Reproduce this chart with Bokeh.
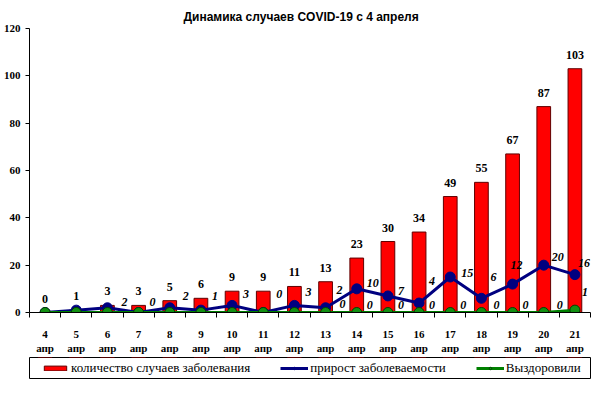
import numpy as np
from bokeh.plotting import figure
from bokeh.layouts import column
from bokeh.models import (ColumnDataSource, FixedTicker, Legend, LegendItem, Range1d, Title)
from bokeh.core.properties import value
from bokeh.embed import file_html
from bokeh.resources import INLINE

days = ["4", "5", "6", "7", "8", "9", "10", "11", "12", "13", "14", "15", "16", "17", "18", "19", "20", "21"]
month = "апр"
cases = [0, 1, 3, 3, 5, 6, 9, 9, 11, 13, 23, 30, 34, 49, 55, 67, 87, 103]
increase = [0, 1, 2, 0, 2, 1, 3, 0, 3, 2, 10, 7, 4, 15, 6, 12, 20, 16]
recovered = [0, 0, 0, 0, 0, 0, 0, 0, 0, 0, 0, 0, 0, 0, 0, 0, 0, 1]
y_ticks = [0, 20, 40, 60, 80, 100, 120]

n = len(days)
idx = list(range(n))
src = ColumnDataSource(dict(
    x=idx, cases=cases, increase=increase, recovered=recovered,
    cases_lbl=[str(v) for v in cases],
))

# label placement (pixel offsets, styling only) for labelled points: days 6..21 / 13..21
inc_first = 2
inc_dx = [17, 14, 16, 14, 14, 16, 14, 14, 16, 13, 13, 17, 12, 4, 14, 9]
inc_dy = [-6, -11, -12, -14, -11, -19, -13, -18, -6, -5, -22, -4, -21, -19, -8, -12]
rec_first = 9
rec_dx = [17, 13, 13, 13, 13, 15, 13, 16, 10]
rec_dy = [-9, -8, -8, -8, -8, -8, -8, -8, -18]

inc_src = ColumnDataSource(dict(x=idx[inc_first:], y=increase[inc_first:],
                                t=[str(v) for v in increase[inc_first:]], xo=inc_dx, yo=inc_dy))
rec_src = ColumnDataSource(dict(x=idx[rec_first:], y=recovered[rec_first:],
                                t=[str(v) for v in recovered[rec_first:]], xo=rec_dx, yo=rec_dy))

BAR = dict(width=0.44, fill_color="#FF0000", line_color="#600000", line_width=1)
INC_L = dict(line_color="#000080", line_width=3)
INC_P = dict(size=10, fill_color="#000080", line_color="#000080")
REC_L = dict(line_color="#008000", line_width=3)
REC_P = dict(size=10, fill_color="#129012", line_color="#004000")

p = figure(width=591, height=356, output_backend="svg", toolbar_location=None,
           x_range=Range1d(-0.5, n - 0.5), y_range=Range1d(0, 120),
           min_border_left=29, min_border_right=1, min_border_top=28, min_border_bottom=40)
p.outline_line_color = None
p.xgrid.grid_line_color = None
p.ygrid.grid_line_color = None

p.title = Title(text="Динамика случаев COVID-19 с 4 апреля", align="left", offset=154,
                text_font="Liberation Sans", text_font_size="12px", text_font_style="bold",
                text_color="black", standoff=9)

p.vbar(x="x", top="cases", source=src, **BAR)
p.line("x", "increase", source=src, **INC_L)
p.scatter("x", "increase", source=src, **INC_P)
p.line("x", "recovered", source=src, **REC_L)
p.scatter("x", "recovered", source=src, **REC_P)

p.text("x", "cases", text="cases_lbl", source=src, text_align="center", text_baseline="middle",
       y_offset=-14, text_font=value("Liberation Serif"), text_font_style="bold",
       text_font_size="12px", text_color="black")
p.text("x", "y", text="t", source=inc_src, text_align="center", text_baseline="middle",
       x_offset="xo", y_offset="yo", text_font=value("Liberation Serif"), text_font_style="bold italic",
       text_font_size="12px", text_color="black")
p.text("x", "y", text="t", source=rec_src, text_align="center", text_baseline="middle",
       x_offset="xo", y_offset="yo", text_font=value("Liberation Serif"), text_font_style="bold italic",
       text_font_size="12px", text_color="black")

xa = p.xaxis[0]
xa.ticker = FixedTicker(ticks=idx, minor_ticks=[i - 0.5 for i in range(n + 1)])
xa.major_label_overrides = {i: d + "\n" + month for i, d in zip(idx, days)}
xa.major_tick_out = 0
xa.major_tick_in = 0
xa.minor_tick_out = 5
xa.minor_tick_in = 0
xa.axis_line_color = "black"
xa.minor_tick_line_color = "black"
xa.major_label_text_font = "Liberation Serif"
xa.major_label_text_font_style = "bold"
xa.major_label_text_font_size = "11px"
xa.major_label_text_color = "black"
xa.major_label_standoff = 10

ya = p.yaxis[0]
ya.ticker = FixedTicker(ticks=y_ticks)
ya.major_tick_out = 4
ya.major_tick_in = 0
ya.minor_tick_line_color = None
ya.axis_line_color = "black"
ya.major_tick_line_color = "black"
ya.major_label_text_font = "Liberation Serif"
ya.major_label_text_font_style = "bold"
ya.major_label_text_font_size = "11px"
ya.major_label_text_color = "black"
ya.major_label_standoff = 5

# legend strip: same data drawn out of view, only the legend is visible
lg = figure(width=591, height=23, output_backend="svg", toolbar_location=None,
            x_range=Range1d(-0.5, n - 0.5), y_range=Range1d(-3, -2),
            min_border_left=25, min_border_right=1, min_border_top=1, min_border_bottom=1,
            x_axis_type=None, y_axis_type=None)
lg.outline_line_color = "black"
lg.outline_line_width = 1
lg.xgrid.grid_line_color = None
lg.ygrid.grid_line_color = None
b2 = lg.vbar(x="x", top="cases", source=src, **BAR)
il2 = lg.line("x", "increase", source=src, **INC_L)
ip2 = lg.scatter("x", "increase", source=src, **INC_P)
rl2 = lg.line("x", "recovered", source=src, **REC_L)
rp2 = lg.scatter("x", "recovered", source=src, **REC_P)

legend = Legend(items=[
    LegendItem(label="количество случаев заболевания", renderers=[b2]),
    LegendItem(label="прирост заболеваемости", renderers=[il2, ip2]),
    LegendItem(label="Выздоровили", renderers=[rl2, rp2]),
], orientation="horizontal", location="left")
legend.label_text_font = "Liberation Serif"
legend.label_text_font_size = "13px"
legend.label_text_color = "black"
legend.border_line_color = None
legend.background_fill_alpha = 0
legend.glyph_width = 28
legend.glyph_height = 6
legend.label_standoff = 2
legend.spacing = 30
legend.padding = 3
legend.margin = 12
legend.label_height = 14
lg.add_layout(legend)

layout = column(p, lg, spacing=0)
open("out.html", "w").write(file_html(layout, INLINE))
